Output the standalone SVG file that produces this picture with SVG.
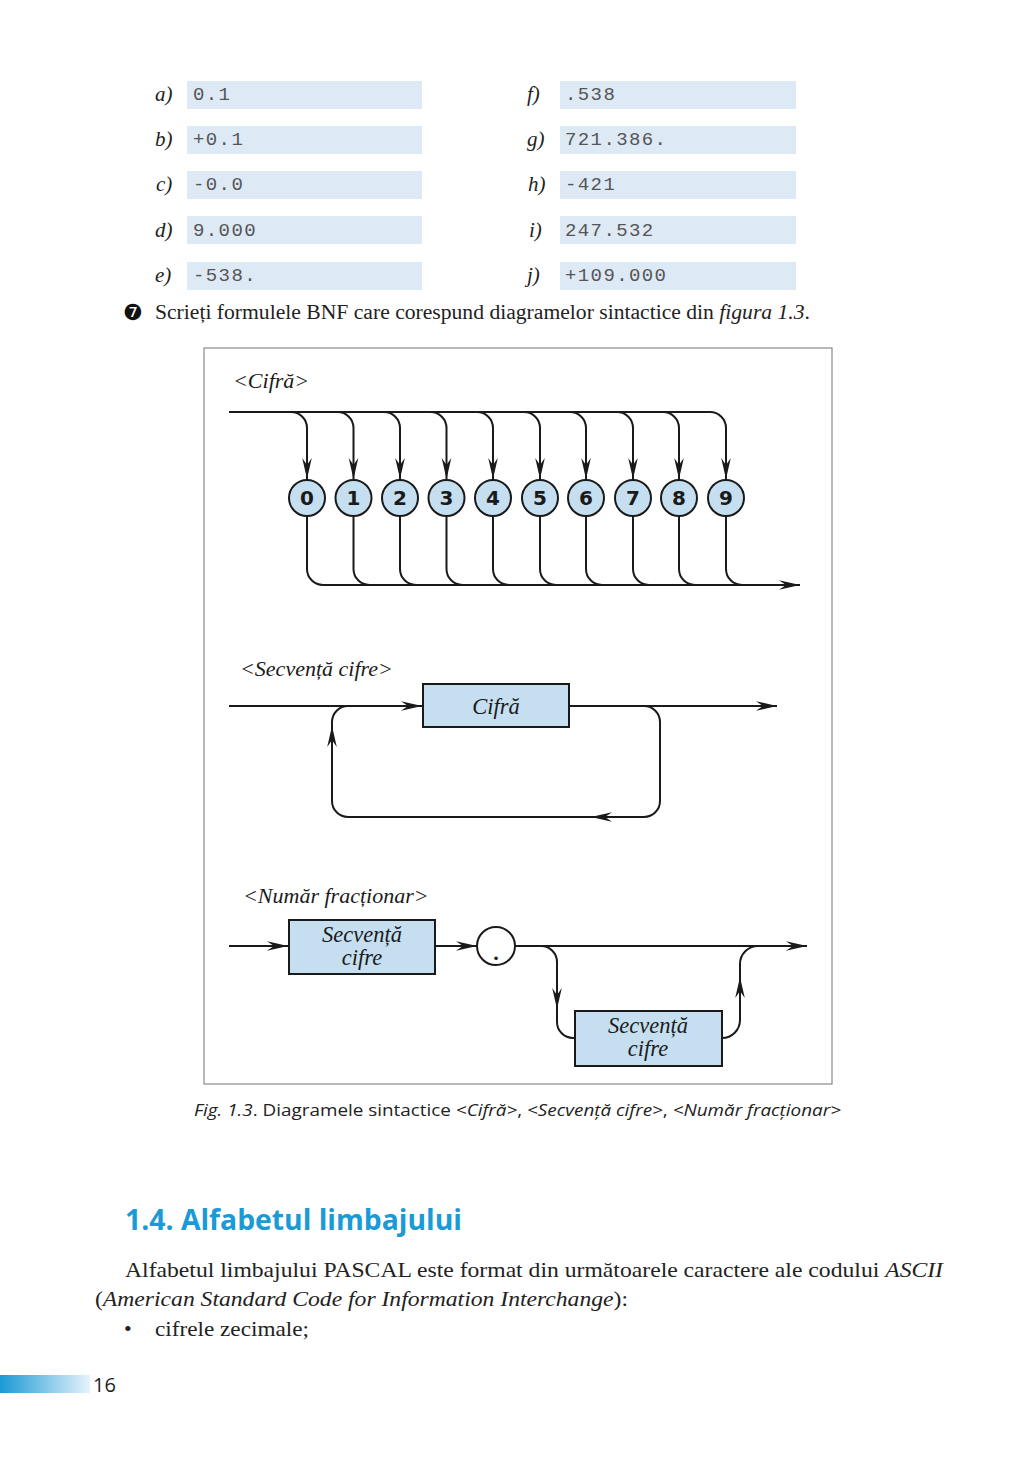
<svg xmlns="http://www.w3.org/2000/svg" width="1024" height="1458" viewBox="0 0 1024 1458">
<style>
.lbl{font-family:"Liberation Serif",serif;font-style:italic;font-size:21px;fill:#222}
.mono{font-family:"Liberation Mono",monospace;font-size:19px;fill:#555;letter-spacing:1.4px}
.cell{fill:#dde9f5}
.ln{fill:none;stroke:#1a1a1a;stroke-width:2}
.dig{fill:#c5dff1;stroke:#1a1a1a;stroke-width:2}
.digt{font-family:"DejaVu Sans",sans-serif;font-weight:bold;font-size:20px;fill:#1a1a1a;text-anchor:middle}
.box{fill:#c5dff1;stroke:#1a1a1a;stroke-width:2}
.boxt{font-family:"Liberation Serif",serif;font-style:italic;font-size:22.5px;fill:#1a1a1a;text-anchor:middle}
.title{font-family:"Liberation Serif",serif;font-style:italic;font-size:22px;fill:#1a1a1a}
.body{font-family:"Liberation Serif",serif;font-size:22px;fill:#222}
</style>
<defs>
<marker id="ah" markerUnits="userSpaceOnUse" markerWidth="24" markerHeight="12" viewBox="-22 -6 24 12" refX="0" refY="0" orient="auto">
<path d="M0,0 L-21,-4.8 L-14,0 L-21,4.8 Z" fill="#1a1a1a"/>
</marker>
<linearGradient id="pg" x1="0" y1="0" x2="1" y2="0">
<stop offset="0" stop-color="#1a9ad6"/>
<stop offset="1" stop-color="#e6f3fb"/>
</linearGradient>
</defs>

<g id="exercise-table">
<rect class="cell" x="187" y="81" width="235" height="28"/>
<rect class="cell" x="187" y="126" width="235" height="28"/>
<rect class="cell" x="187" y="171" width="235" height="28"/>
<rect class="cell" x="187" y="216" width="235" height="28"/>
<rect class="cell" x="187" y="262" width="235" height="28"/>
<rect class="cell" x="560" y="81" width="236" height="28"/>
<rect class="cell" x="560" y="126" width="236" height="28"/>
<rect class="cell" x="560" y="171" width="236" height="28"/>
<rect class="cell" x="560" y="216" width="236" height="28"/>
<rect class="cell" x="560" y="262" width="236" height="28"/>
<text class="lbl" x="155" y="101">a)</text>
<text class="lbl" x="155" y="146">b)</text>
<text class="lbl" x="156" y="191">c)</text>
<text class="lbl" x="155" y="237">d)</text>
<text class="lbl" x="155" y="282">e)</text>
<text class="lbl" x="527" y="101">f)</text>
<text class="lbl" x="527" y="146">g)</text>
<text class="lbl" x="528" y="191">h)</text>
<text class="lbl" x="529" y="237">i)</text>
<text class="lbl" x="527" y="282">j)</text>
<text class="mono" x="193" y="100">0.1</text>
<text class="mono" x="193" y="145">+0.1</text>
<text class="mono" x="193" y="190">-0.0</text>
<text class="mono" x="193" y="236">9.000</text>
<text class="mono" x="193" y="281">-538.</text>
<text class="mono" x="565" y="100">.538</text>
<text class="mono" x="565" y="145">721.386.</text>
<text class="mono" x="565" y="190">-421</text>
<text class="mono" x="565" y="236">247.532</text>
<text class="mono" x="565" y="281">+109.000</text>
</g>

<g id="task-7">
<text x="123" y="320" style="font-family:'DejaVu Sans',sans-serif;font-size:22px;fill:#111">❼</text>
<text class="body" x="155" y="319" style="font-size:20px" textLength="655" lengthAdjust="spacingAndGlyphs">Scrieți formulele BNF care corespund diagramelor sintactice din <tspan font-style="italic">figura 1.3</tspan>.</text>
</g>

<rect id="frame" x="204" y="348" width="628" height="736" fill="none" stroke="#8a8a8a" stroke-width="1.2"/>

<text class="title" x="233" y="388">&lt;Cifră&gt;</text>
<text class="title" x="240" y="676">&lt;Secvență cifre&gt;</text>
<text class="title" x="243" y="903">&lt;Număr fracționar&gt;</text>

<g id="connectors">
<path class="ln" d="M229,412 L710,412"/>
<path class="ln" marker-end="url(#ah)" d="M291,412 A16,16 0 0 1 307,428 L307,479"/>
<path class="ln" marker-end="url(#ah)" d="M337.5,412 A16,16 0 0 1 353.5,428 L353.5,479"/>
<path class="ln" marker-end="url(#ah)" d="M384,412 A16,16 0 0 1 400,428 L400,479"/>
<path class="ln" marker-end="url(#ah)" d="M430.5,412 A16,16 0 0 1 446.5,428 L446.5,479"/>
<path class="ln" marker-end="url(#ah)" d="M477,412 A16,16 0 0 1 493,428 L493,479"/>
<path class="ln" marker-end="url(#ah)" d="M524,412 A16,16 0 0 1 540,428 L540,479"/>
<path class="ln" marker-end="url(#ah)" d="M570,412 A16,16 0 0 1 586,428 L586,479"/>
<path class="ln" marker-end="url(#ah)" d="M617,412 A16,16 0 0 1 633,428 L633,479"/>
<path class="ln" marker-end="url(#ah)" d="M663,412 A16,16 0 0 1 679,428 L679,479"/>
<path class="ln" marker-end="url(#ah)" d="M710,412 A16,16 0 0 1 726,428 L726,479"/>
<path class="ln" d="M307,517 L307,569 A16,16 0 0 0 323,585"/>
<path class="ln" d="M353.5,517 L353.5,569 A16,16 0 0 0 369.5,585"/>
<path class="ln" d="M400,517 L400,569 A16,16 0 0 0 416,585"/>
<path class="ln" d="M446.5,517 L446.5,569 A16,16 0 0 0 462.5,585"/>
<path class="ln" d="M493,517 L493,569 A16,16 0 0 0 509,585"/>
<path class="ln" d="M540,517 L540,569 A16,16 0 0 0 556,585"/>
<path class="ln" d="M586,517 L586,569 A16,16 0 0 0 602,585"/>
<path class="ln" d="M633,517 L633,569 A16,16 0 0 0 649,585"/>
<path class="ln" d="M679,517 L679,569 A16,16 0 0 0 695,585"/>
<path class="ln" d="M726,517 L726,569 A16,16 0 0 0 742,585"/>
<path class="ln" marker-end="url(#ah)" d="M323,585 L800,585"/>

<path class="ln" marker-end="url(#ah)" d="M229,706 L422,706"/>
<path class="ln" marker-end="url(#ah)" d="M569,706 L777,706"/>
<path class="ln" d="M644,706 A16,16 0 0 1 660,722 L660,801 A16,16 0 0 1 644,817 L592,817"/>
<path class="ln" marker-end="url(#ah)" d="M620,817 L591,817"/>
<path class="ln" d="M592,817 L348,817 A16,16 0 0 1 332,801 L332,727"/>
<path class="ln" marker-end="url(#ah)" d="M332,760 L332,726"/>
<path class="ln" d="M332,727 L332,722 A16,16 0 0 1 348,706"/>

<path class="ln" marker-end="url(#ah)" d="M229,946 L288,946"/>
<path class="ln" marker-end="url(#ah)" d="M435,946 L477,946"/>
<path class="ln" marker-end="url(#ah)" d="M515,946 L807,946"/>
<path class="ln" d="M541,946 A16,16 0 0 1 557,962 L557,1008"/>
<path class="ln" marker-end="url(#ah)" d="M557,990 L557,1009"/>
<path class="ln" d="M557,1008 L557,1022 A16,16 0 0 0 573,1038 L575,1038"/>
<path class="ln" d="M722,1038 A18,18 0 0 0 740,1020 L740,978"/>
<path class="ln" marker-end="url(#ah)" d="M740,1000 L740,977"/>
<path class="ln" d="M740,978 L740,964 A18,18 0 0 1 758,946"/>
</g>

<g id="digit-nodes">
<g id="d0"><circle class="dig" cx="307" cy="498" r="18"/><text class="digt" x="307" y="505">0</text></g>
<g id="d1"><circle class="dig" cx="353.5" cy="498" r="18"/><text class="digt" x="353.5" y="505">1</text></g>
<g id="d2"><circle class="dig" cx="400" cy="498" r="18"/><text class="digt" x="400" y="505">2</text></g>
<g id="d3"><circle class="dig" cx="446.5" cy="498" r="18"/><text class="digt" x="446.5" y="505">3</text></g>
<g id="d4"><circle class="dig" cx="493" cy="498" r="18"/><text class="digt" x="493" y="505">4</text></g>
<g id="d5"><circle class="dig" cx="540" cy="498" r="18"/><text class="digt" x="540" y="505">5</text></g>
<g id="d6"><circle class="dig" cx="586" cy="498" r="18"/><text class="digt" x="586" y="505">6</text></g>
<g id="d7"><circle class="dig" cx="633" cy="498" r="18"/><text class="digt" x="633" y="505">7</text></g>
<g id="d8"><circle class="dig" cx="679" cy="498" r="18"/><text class="digt" x="679" y="505">8</text></g>
<g id="d9"><circle class="dig" cx="726" cy="498" r="18"/><text class="digt" x="726" y="505">9</text></g>
</g>

<g id="cifra-box">
<rect class="box" x="423" y="684" width="146" height="43"/>
<text class="boxt" x="496" y="714">Cifră</text>
</g>

<g id="secv-box-1">
<rect class="box" x="289" y="920" width="146" height="54"/>
<text class="boxt" x="362" y="942">Secvență</text>
<text class="boxt" x="362" y="965">cifre</text>
</g>

<g id="dot-node">
<ellipse cx="496" cy="946" rx="19" ry="19" fill="#fff" stroke="#1a1a1a" stroke-width="2"/>
<text x="496" y="960" style="font-family:'Liberation Serif',serif;font-size:22px;font-weight:bold;fill:#1a1a1a;text-anchor:middle">.</text>
</g>

<g id="secv-box-2">
<rect class="box" x="575" y="1011" width="147" height="55"/>
<text class="boxt" x="648" y="1033">Secvență</text>
<text class="boxt" x="648" y="1056">cifre</text>
</g>

<text id="caption" x="194" y="1116" style="font-family:'Open Sans',sans-serif;font-size:17px;fill:#222" textLength="647" lengthAdjust="spacingAndGlyphs"><tspan font-style="italic">Fig. 1.3</tspan>. Diagramele sintactice <tspan font-style="italic">&lt;Cifră&gt;</tspan>, <tspan font-style="italic">&lt;Secvență cifre&gt;</tspan>, <tspan font-style="italic">&lt;Număr fracționar&gt;</tspan></text>

<text id="heading" x="125" y="1230" style="font-family:'Open Sans',sans-serif;font-weight:bold;font-size:29px;fill:#1a9ad6" textLength="337" lengthAdjust="spacingAndGlyphs">1.4. Alfabetul limbajului</text>

<text class="body" x="125" y="1277" textLength="818" lengthAdjust="spacingAndGlyphs">Alfabetul limbajului PASCAL este format din următoarele caractere ale codului <tspan font-style="italic">ASCII</tspan></text>
<text class="body" x="95" y="1306" textLength="533" lengthAdjust="spacingAndGlyphs">(<tspan font-style="italic">American Standard Code for Information Interchange</tspan>):</text>
<text class="body" x="124" y="1336">•</text>
<text class="body" x="155" y="1336" textLength="154" lengthAdjust="spacingAndGlyphs">cifrele zecimale;</text>

<rect id="page-bar" x="0" y="1375" width="90" height="18" fill="url(#pg)"/>
<text id="page-number" x="93" y="1392" style="font-family:'Open Sans',sans-serif;font-size:20px;fill:#222">16</text>
</svg>
